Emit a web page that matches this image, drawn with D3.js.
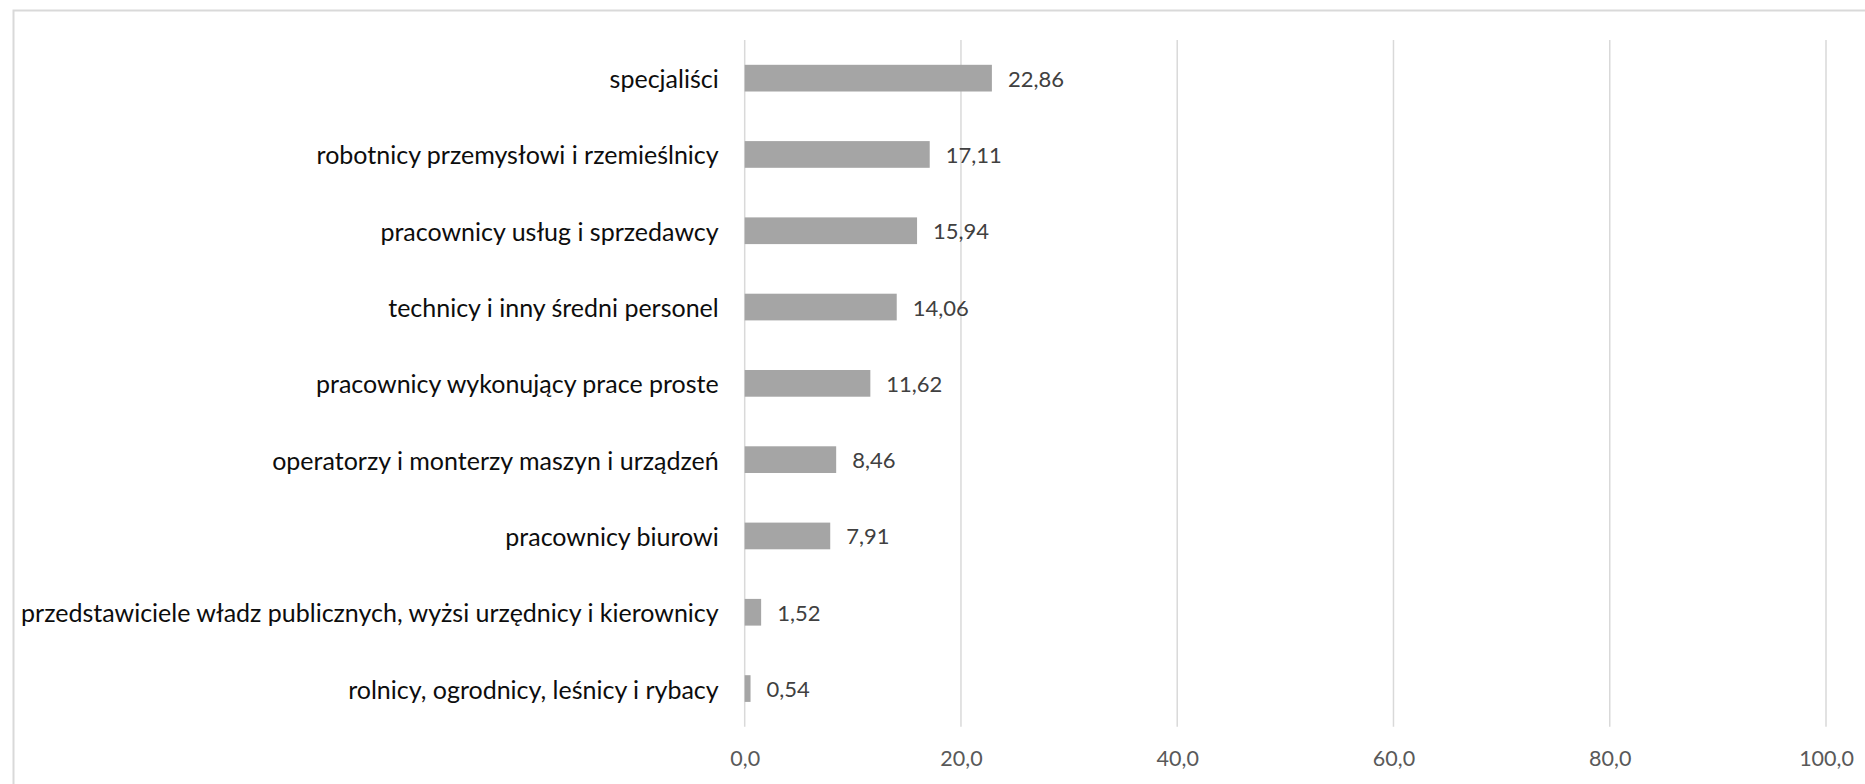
<!DOCTYPE html>
<html><head><meta charset="utf-8">
<script src="https://cdn.jsdelivr.net/npm/d3@7/dist/d3.min.js"></script>
<style>
html,body{margin:0;padding:0;background:#fff;overflow:hidden;}
svg{display:block;}
</style></head>
<body>
<script>
const categories = [
  "specjaliści",
  "robotnicy przemysłowi i rzemieślnicy",
  "pracownicy usług i sprzedawcy",
  "technicy i inny średni personel",
  "pracownicy wykonujący prace proste",
  "operatorzy i monterzy maszyn i urządzeń",
  "pracownicy biurowi",
  "przedstawiciele władz publicznych, wyżsi urzędnicy i kierownicy",
  "rolnicy, ogrodnicy, leśnicy i rybacy"
];
const values = [22.86, 17.11, 15.94, 14.06, 11.62, 8.46, 7.91, 1.52, 0.54];
const valueLabels = ["22,86","17,11","15,94","14,06","11,62","8,46","7,91","1,52","0,54"];
const tickValues = [0, 20, 40, 60, 80, 100];
const tickLabels = ["0,0","20,0","40,0","60,0","80,0","100,0"];

const W = 1865, H = 784;
const font = "Lato, 'Open Sans', sans-serif";
const svg = d3.select("body").append("svg").attr("width", W).attr("height", H);

// chart border
svg.append("rect").attr("x", 13.5).attr("y", 10.5).attr("width", W).attr("height", H)
  .attr("fill", "none").attr("stroke", "#d9d9d9").attr("stroke-width", 2);

const plot = {left: 744.7, right: 1826, top: 40, bottom: 726.7};
const x = d3.scaleLinear().domain([0, 100]).range([plot.left, plot.right]);
const y = d3.scaleBand().domain(categories).range([plot.top, plot.bottom])
  .paddingInner(0.65).paddingOuter(0.325);

// gridlines
svg.append("g").selectAll("line").data(tickValues).join("line")
  .attr("x1", d => x(d)).attr("x2", d => x(d))
  .attr("y1", plot.top).attr("y2", plot.bottom)
  .attr("stroke", "#d9d9d9").attr("stroke-width", 1.5);

// x axis tick labels
const xAxis = d3.axisBottom(x).tickValues(tickValues).tickSize(0)
  .tickFormat((d, i) => tickLabels[i]);
const gx = svg.append("g").attr("transform", `translate(0,${plot.bottom})`).call(xAxis);
gx.select(".domain").remove();
gx.selectAll("text").attr("font-family", font).attr("font-size", 21.5)
  .attr("fill", "#595959").attr("dy", null).attr("y", 31).attr("dominant-baseline", "central");

// bars
svg.append("g").selectAll("rect").data(values).join("rect")
  .attr("x", x(0)).attr("y", (d, i) => y(categories[i]))
  .attr("width", d => x(d) - x(0)).attr("height", y.bandwidth())
  .attr("fill", "#a5a5a5");

// value labels
svg.append("g").selectAll("text").data(values).join("text")
  .attr("x", d => x(d) + 16).attr("y", (d, i) => y(categories[i]) + y.bandwidth() / 2)
  .attr("dominant-baseline", "central")
  .attr("font-family", font).attr("font-size", 22).attr("fill", "#404040")
  .text((d, i) => valueLabels[i]);

// category labels
const yAxis = d3.axisLeft(y).tickSize(0).tickPadding(26);
const gy = svg.append("g").attr("transform", `translate(${plot.left},0)`).call(yAxis);
gy.select(".domain").remove();
gy.selectAll("text").attr("font-family", font).attr("font-size", 25)
  .attr("fill", "#0d0d0d").attr("dy", null).attr("dominant-baseline", "central");
</script>
</body></html>
